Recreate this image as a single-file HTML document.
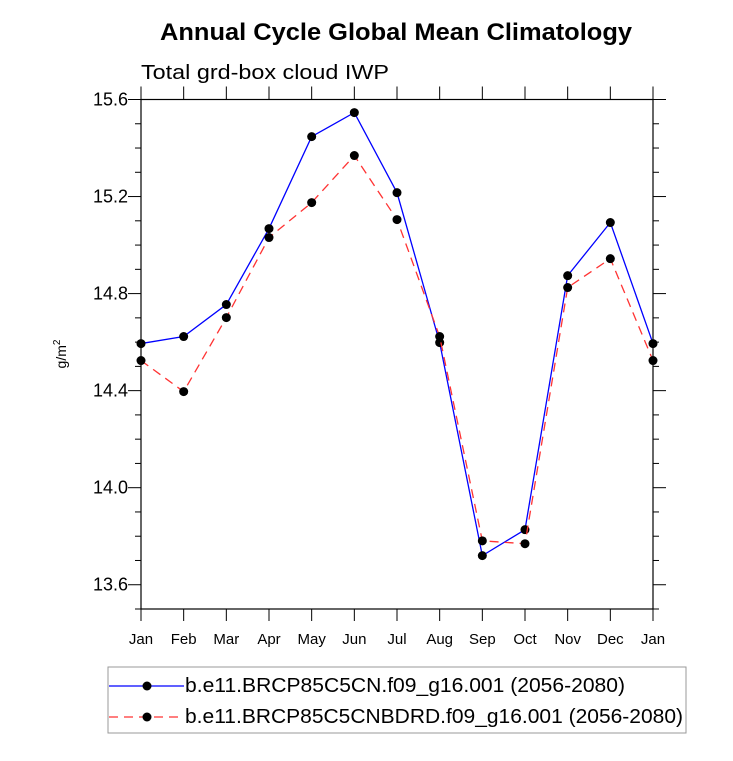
<!DOCTYPE html>
<html><head><meta charset="utf-8"><style>
body{margin:0;background:#fff;width:733px;height:756px;overflow:hidden}
svg{font-family:"Liberation Sans",sans-serif}
</style></head><body>
<svg id="chart" width="733" height="756">
<text x="160" y="40" textLength="472" lengthAdjust="spacingAndGlyphs" font-size="24" font-weight="bold">Annual Cycle Global Mean Climatology</text>
<text x="141" y="79" textLength="248" lengthAdjust="spacingAndGlyphs" font-size="20">Total grd-box cloud IWP</text>
<text transform="translate(66,354) rotate(-90)" text-anchor="middle" font-size="14">g/m<tspan dy="-6" font-size="10">2</tspan></text>
<g id="axes"></g><g id="series"></g>
<rect x="108" y="667" width="578" height="66" fill="none" stroke="#999" stroke-width="1"/>
<g>
<line x1="109" y1="686" x2="184" y2="686" stroke="#00f" stroke-width="1.2"/>
<circle cx="147" cy="686" r="4.5"/>
<text x="185" y="692" textLength="440" lengthAdjust="spacingAndGlyphs" font-size="20">b.e11.BRCP85C5CN.f09_g16.001 (2056-2080)</text></g>
<g>
<line x1="109" y1="717" x2="184" y2="717" stroke="#f33" stroke-width="1.2" stroke-dasharray="9,6"/>
<circle cx="147" cy="717" r="4.5"/>
<text x="185" y="723" textLength="498" lengthAdjust="spacingAndGlyphs" font-size="20">b.e11.BRCP85C5CNBDRD.f09_g16.001 (2056-2080)</text></g>
</svg>
<script>
const months=["Jan","Feb","Mar","Apr","May","Jun","Jul","Aug","Sep","Oct","Nov","Dec","Jan"];
const seriesCN=[14.594,14.623,14.755,15.068,15.447,15.546,15.216,14.598,13.720,13.827,14.874,15.093,14.594];
const seriesBDRD=[14.524,14.396,14.701,15.031,15.175,15.369,15.105,14.623,13.781,13.769,14.825,14.944,14.524];
const yTicks=[13.6,14.0,14.4,14.8,15.2,15.6];
const yMin=13.5,yMax=15.6;
const L=141,R=653,T=99.5,B=609;
const NS="http://www.w3.org/2000/svg";
function xs(i){return L+(R-L)*i/(months.length-1);}
function ys(v){return B-(v-yMin)/(yMax-yMin)*(B-T);}
function mk(tag,attrs,parent){const e=document.createElementNS(NS,tag);for(const k in attrs)e.setAttribute(k,attrs[k]);parent.appendChild(e);return e;}
const ax=document.getElementById('axes');
const fr=mk('rect',{x:L,y:T,width:R-L,height:B-T,fill:'none',stroke:'#000','stroke-width':1.2},ax);


for(let i=0;i<months.length;i++){
  const x=xs(i);
  mk('line',{x1:x,y1:B,x2:x,y2:B+12,stroke:'#000'},ax);
  mk('line',{x1:x,y1:T,x2:x,y2:T-13,stroke:'#000'},ax);
  const t=mk('text',{x:x,y:B+35,'text-anchor':'middle','font-size':15},ax);
  t.textContent=months[i];
  
  
}
for(let v=13.5;v<=15.6001;v+=0.1){
  const y=ys(v);const major=yTicks.some(m=>Math.abs(m-v)<1e-6);const len=major?13:6;
  mk('line',{x1:L-len,y1:y,x2:L,y2:y,stroke:'#000'},ax);
  mk('line',{x1:R,y1:y,x2:R+len,y2:y,stroke:'#000'},ax);
}
yTicks.forEach(v=>{
  const t=mk('text',{x:L-13,y:ys(v)+6,'text-anchor':'end','font-size':18},ax);
  t.textContent=v.toFixed(1);
  
  
});
const sg=document.getElementById('series');
function draw(vals,color,dash,name){
  const g=mk('g',{},sg);
  
  
  const p=mk('polyline',{points:vals.map((v,i)=>xs(i)+','+ys(v)).join(' '),fill:'none',stroke:color,'stroke-width':1.3},g);
  if(dash)p.setAttribute('stroke-dasharray',dash);
  vals.forEach((v,i)=>{const c=mk('circle',{cx:xs(i),cy:ys(v),r:4.5,fill:'#000'},g);
    
    });
}
draw(seriesCN,'#00f',null,'series-brcp85c5cn');
draw(seriesBDRD,'#f33','9,6','series-brcp85c5cnbdrd');
</script>
</body></html>
